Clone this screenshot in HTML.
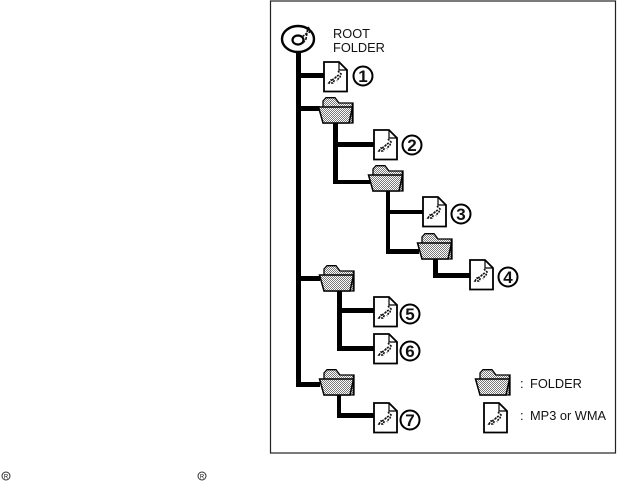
<!DOCTYPE html>
<html>
<head>
<meta charset="utf-8">
<style>
html,body{margin:0;padding:0;background:#fff;width:617px;height:481px;overflow:hidden}
svg{display:block}
text{font-family:"Liberation Sans",sans-serif;fill:#111}
.t{font-size:12.8px}
.n{font-size:17px;font-weight:bold;text-anchor:middle}
</style>
</head>
<body>
<svg width="617" height="481" viewBox="0 0 617 481" xmlns="http://www.w3.org/2000/svg">
<defs>
<pattern id="st" width="2" height="2" patternUnits="userSpaceOnUse">
<rect width="2" height="2" fill="#fff"/>
<rect width="1" height="1" fill="#777"/>
<rect x="1" y="1" width="1" height="1" fill="#777"/>
</pattern>
<g id="doc">
<path d="M1 1H16L24 9V30.500H1Z" fill="#fff" stroke="#000" stroke-width="1.800"/>
<path d="M16 1V9H24" fill="none" stroke="#000" stroke-width="1.200"/>
<path d="M6 22l2-3 3 1-1 2zM9 19l3-2M12 17l2-2M14 15l2-1M15 10l3 3-1 3-2 2-1 2" fill="none" stroke="#111" stroke-width="1.600" stroke-dasharray="2 1"/>
</g>
<g id="fld">
<path d="M5 9V4L8 .7H17L21 6H35V26H5Z" fill="url(#st)" stroke="#000" stroke-width="1.300"/>
<path d="M.5 10H34.500L31 26H5Z" fill="url(#st)" stroke="#000" stroke-width="1.500"/>
<path d="M34.500 6V26" stroke="#000" stroke-width="1.600"/>
</g>
</defs>

<rect x="270.500" y="1" width="345" height="452" fill="none" stroke="#222" stroke-width="1.200"/>

<!-- connectors -->
<g fill="#000">
<rect x="296" y="52" width="5" height="335"/>
<rect x="298" y="73" width="26" height="5"/>
<rect x="298" y="106" width="22" height="5"/>
<rect x="298" y="276" width="22" height="5"/>
<rect x="298" y="382" width="22" height="5"/>

<rect x="333" y="122" width="5" height="62"/>
<rect x="335" y="142" width="39" height="5"/>
<rect x="335" y="180" width="35" height="4"/>

<rect x="386" y="190" width="4" height="63"/>
<rect x="388" y="210" width="35" height="4"/>
<rect x="386" y="249" width="33" height="5"/>

<rect x="433" y="258" width="5" height="19"/>
<rect x="433" y="273" width="37" height="5"/>

<rect x="337" y="290" width="5" height="60"/>
<rect x="339" y="308" width="35" height="5"/>
<rect x="337" y="346" width="37" height="5"/>

<rect x="337" y="394" width="4" height="23"/>
<rect x="337" y="413" width="37" height="5"/>
</g>

<!-- root disc -->
<ellipse cx="298" cy="39" rx="16" ry="13" fill="#fff" stroke="#000" stroke-width="2.400"/>
<ellipse cx="298" cy="40" rx="5.500" ry="4.500" fill="#fff" stroke="#000" stroke-width="2.200"/>
<path d="M303 43l3-4 1-6 1-6M308 27l2 3-1 3M302 37l5-4" fill="none" stroke="#111" stroke-width="1.600" stroke-dasharray="3 1"/>
<text class="t" x="333" y="38">ROOT</text>
<text class="t" x="333" y="52">FOLDER</text>

<!-- documents -->
<use href="#doc" x="323" y="61"/>
<use href="#doc" x="373" y="129"/>
<use href="#doc" x="422" y="196"/>
<use href="#doc" x="469" y="259"/>
<use href="#doc" x="373" y="296"/>
<use href="#doc" x="373" y="333"/>
<use href="#doc" x="373" y="402"/>
<use href="#doc" x="483" y="402"/>

<!-- folders -->
<use href="#fld" x="318" y="97"/>
<use href="#fld" x="368" y="165"/>
<use href="#fld" x="417" y="233"/>
<use href="#fld" x="319" y="265"/>
<use href="#fld" x="319" y="369"/>
<use href="#fld" x="475" y="369"/>

<!-- numbers -->
<g fill="#fff" stroke="#000" stroke-width="2">
<circle cx="363" cy="76" r="9.500"/>
<circle cx="412" cy="145" r="9.500"/>
<circle cx="461" cy="214" r="9.500"/>
<circle cx="508" cy="277" r="9.500"/>
<circle cx="410" cy="314" r="9.500"/>
<circle cx="410" cy="351" r="9.500"/>
<circle cx="410" cy="420" r="9.500"/>
</g>
<text class="n" x="363" y="82">1</text>
<text class="n" x="412" y="151">2</text>
<text class="n" x="461" y="220">3</text>
<text class="n" x="508" y="283">4</text>
<text class="n" x="410" y="320">5</text>
<text class="n" x="410" y="357">6</text>
<text class="n" x="410" y="426">7</text>

<!-- legend -->
<text class="t" x="520" y="388">:</text>
<text class="t" x="530" y="388">FOLDER</text>
<text class="t" x="520" y="420">:</text>
<text class="t" x="530" y="420">MP3 or WMA</text>

<!-- registered marks -->
<circle cx="6" cy="476" r="4" fill="none" stroke="#333" stroke-width="1"/>
<circle cx="202" cy="476" r="4" fill="none" stroke="#333" stroke-width="1"/>
<text x="6" y="478.500" font-size="6" text-anchor="middle">R</text>
<text x="202" y="478.500" font-size="6" text-anchor="middle">R</text>
</svg>
</body>
</html>
